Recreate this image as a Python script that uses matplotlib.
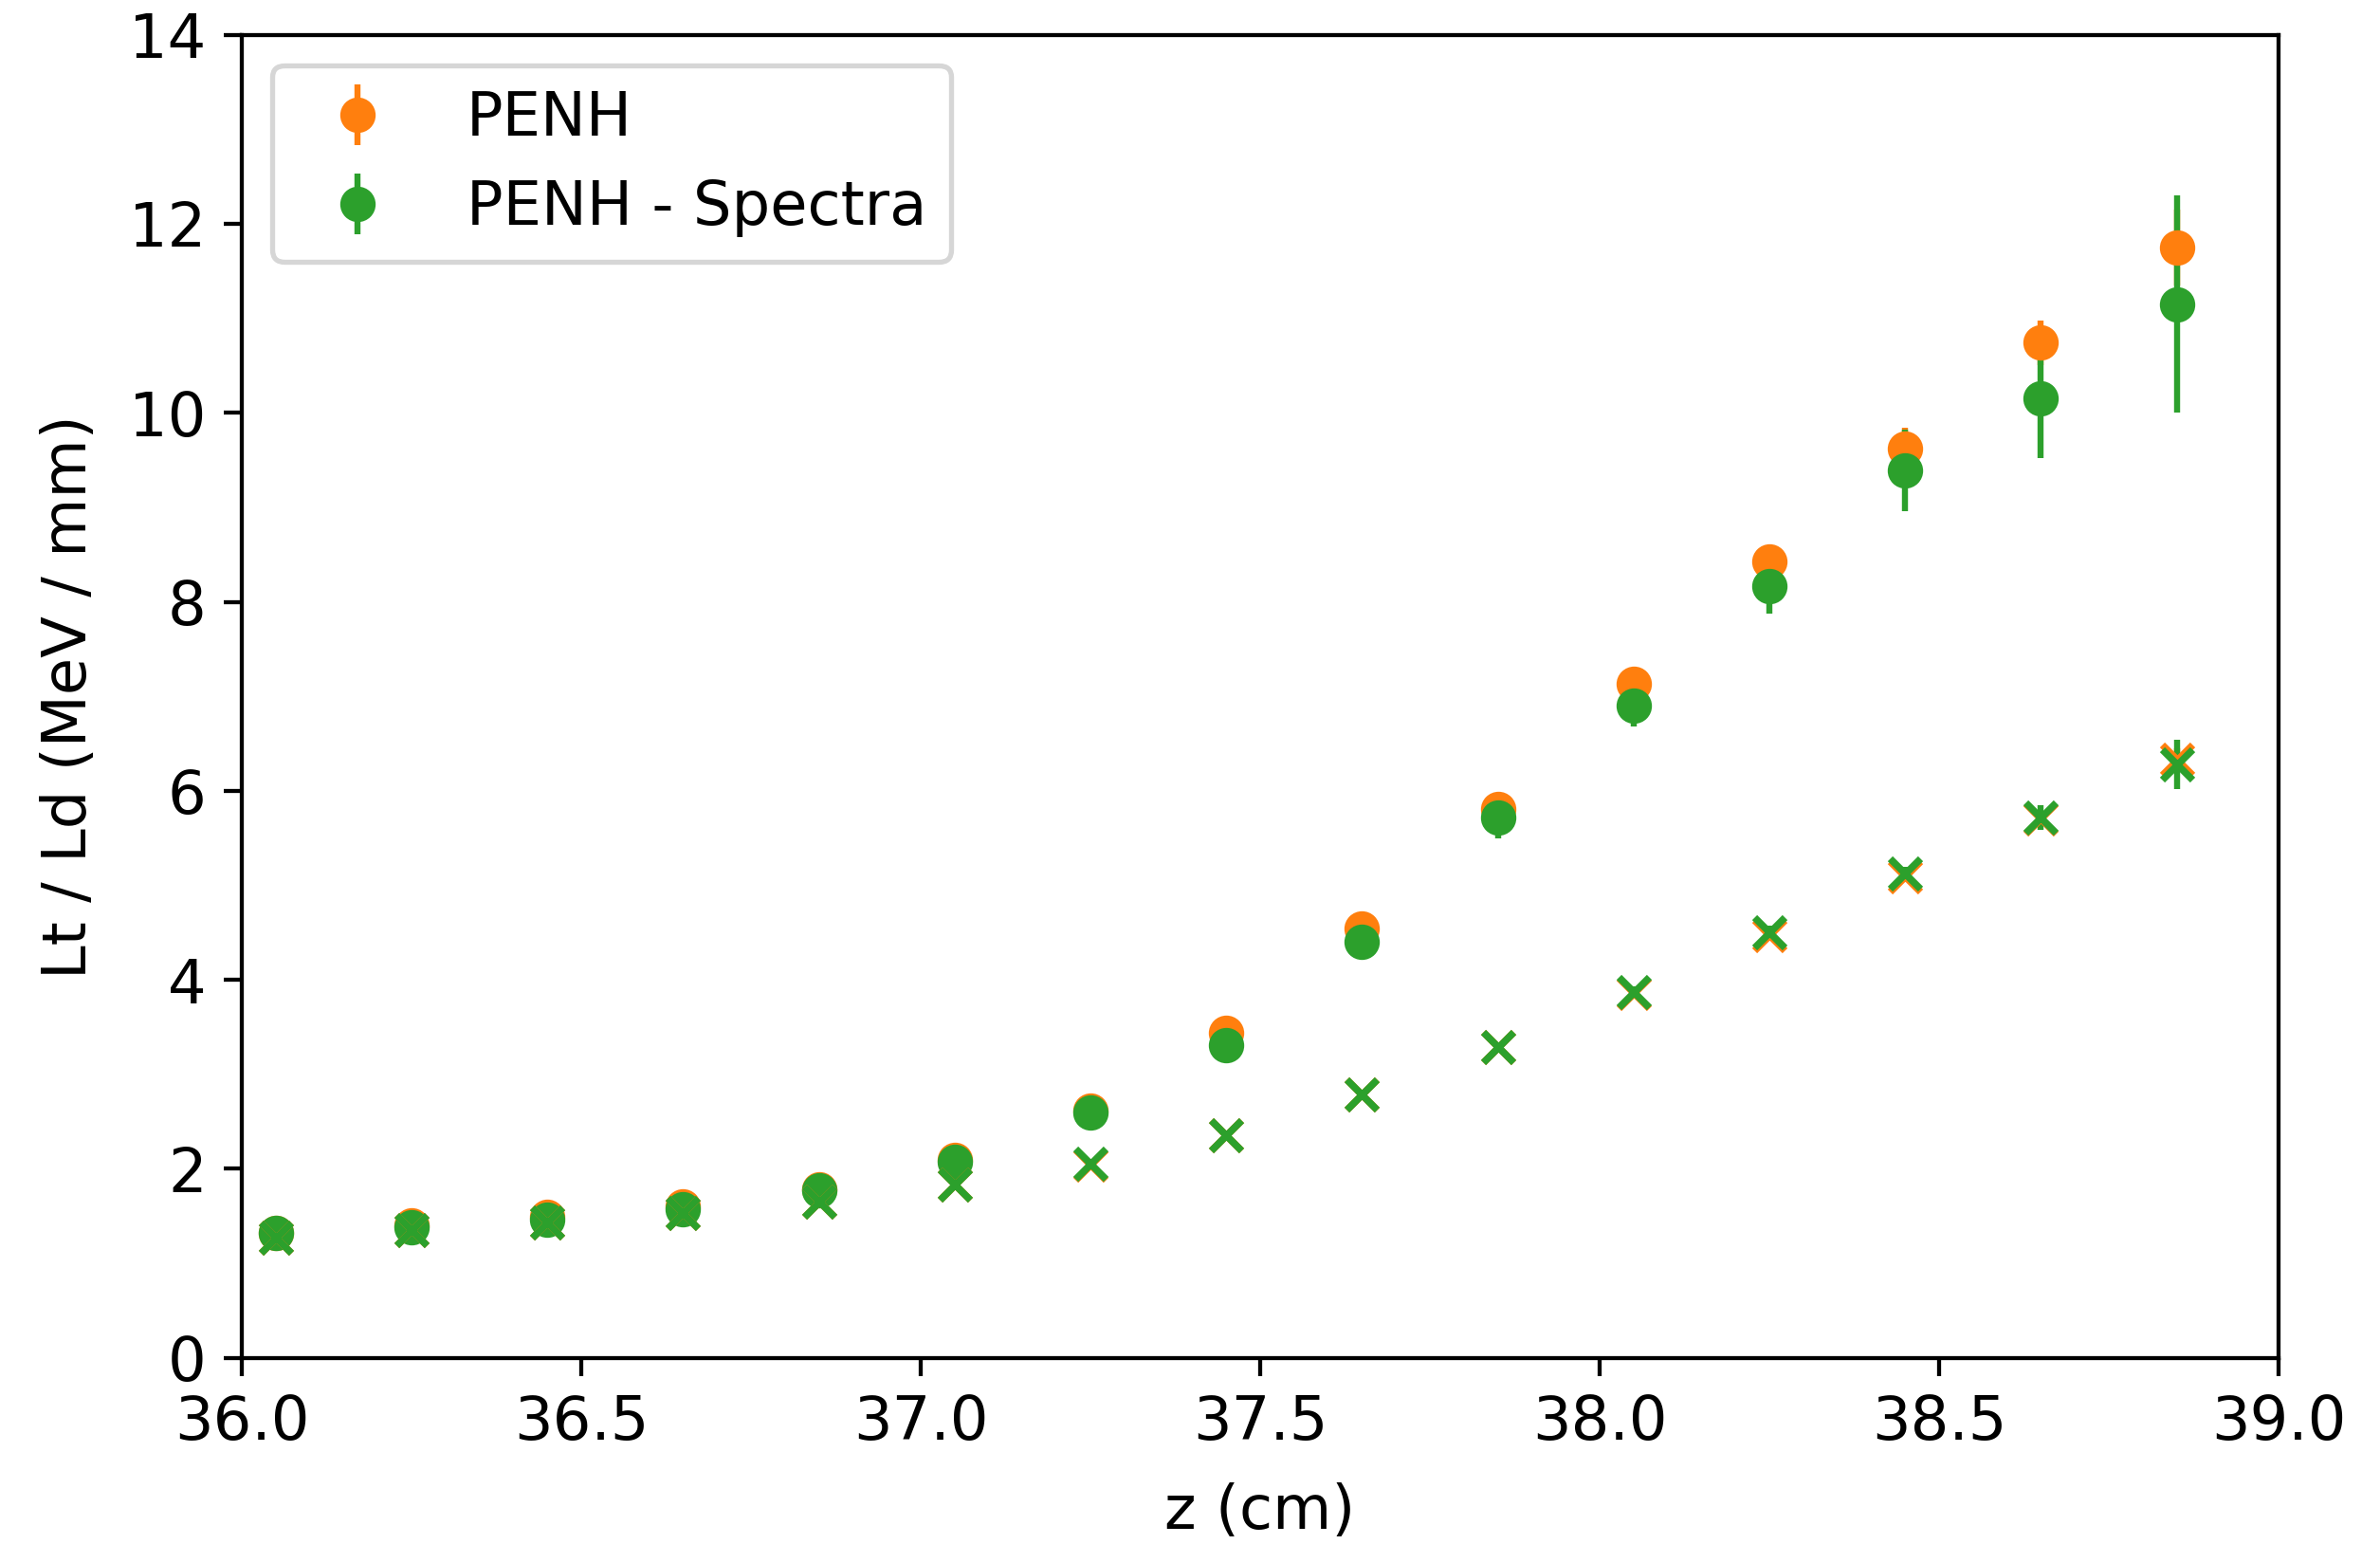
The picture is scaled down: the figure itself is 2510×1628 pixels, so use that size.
import matplotlib
matplotlib.use("Agg")
import matplotlib.pyplot as plt
import numpy as np

plt.rcParams["font.size"] = 12

# z positions (cm)
z = [36.05, 36.25, 36.45, 36.65, 36.85, 37.05, 37.25, 37.45,
     37.65, 37.85, 38.05, 38.25, 38.45, 38.65, 38.85]

# Lt (circles)
penh_lt = [1.32, 1.40, 1.49, 1.60, 1.78, 2.09, 2.62, 3.44,
           4.54, 5.81, 7.13, 8.43, 9.62, 10.74, 11.75]
penh_lt_err = [0.02, 0.02, 0.03, 0.03, 0.04, 0.05, 0.06, 0.08,
               0.09, 0.10, 0.11, 0.13, 0.22, 0.24, 0.40]
spec_lt = [1.32, 1.38, 1.46, 1.57, 1.77, 2.07, 2.60, 3.31,
           4.40, 5.72, 6.90, 8.17, 9.39, 10.15, 11.15]
spec_lt_err = [0.03, 0.03, 0.04, 0.05, 0.06, 0.07, 0.09, 0.12,
               0.18, 0.22, 0.22, 0.30, 0.43, 0.63, 1.15]

# Ld (crosses)
penh_ld = [1.27, 1.35, 1.43, 1.53, 1.65, 1.83, 2.04, 2.36,
           2.79, 3.29, 3.86, 4.47, 5.09, 5.71, 6.33]
penh_ld_err = [0.01, 0.01, 0.01, 0.01, 0.02, 0.02, 0.02, 0.03,
               0.03, 0.04, 0.04, 0.05, 0.06, 0.07, 0.12]
spec_ld = [1.27, 1.35, 1.43, 1.53, 1.65, 1.83, 2.05, 2.36,
           2.79, 3.29, 3.87, 4.50, 5.12, 5.72, 6.28]
spec_ld_err = [0.01, 0.01, 0.01, 0.02, 0.02, 0.02, 0.03, 0.03,
               0.04, 0.05, 0.06, 0.07, 0.08, 0.13, 0.26]

dpi = 384
fig = plt.figure(figsize=(2510 / dpi, 1628 / dpi), dpi=dpi)
ax = fig.add_axes([0.1016, 0.1206, 0.8558, 0.8569])

ax.errorbar(z, penh_lt, yerr=penh_lt_err, fmt="o", color="tab:orange",
            elinewidth=1.2, label="PENH")
ax.errorbar(z, spec_lt, yerr=spec_lt_err, fmt="o", color="tab:green",
            elinewidth=1.2, label="PENH - Spectra")
ax.errorbar(z, penh_ld, yerr=penh_ld_err, fmt="x", color="tab:orange",
            elinewidth=1.2, mew=1.4)
ax.errorbar(z, spec_ld, yerr=spec_ld_err, fmt="x", color="tab:green",
            elinewidth=1.2, mew=1.4)

ax.set_xlim(36.0, 39.0)
ax.set_ylim(0, 14)
ax.set_xlabel("z (cm)", labelpad=6)
ax.set_ylabel("Lt / Ld (MeV / mm)", labelpad=6)
ax.legend(loc="upper left")

fig.savefig("out.png", dpi=dpi)
